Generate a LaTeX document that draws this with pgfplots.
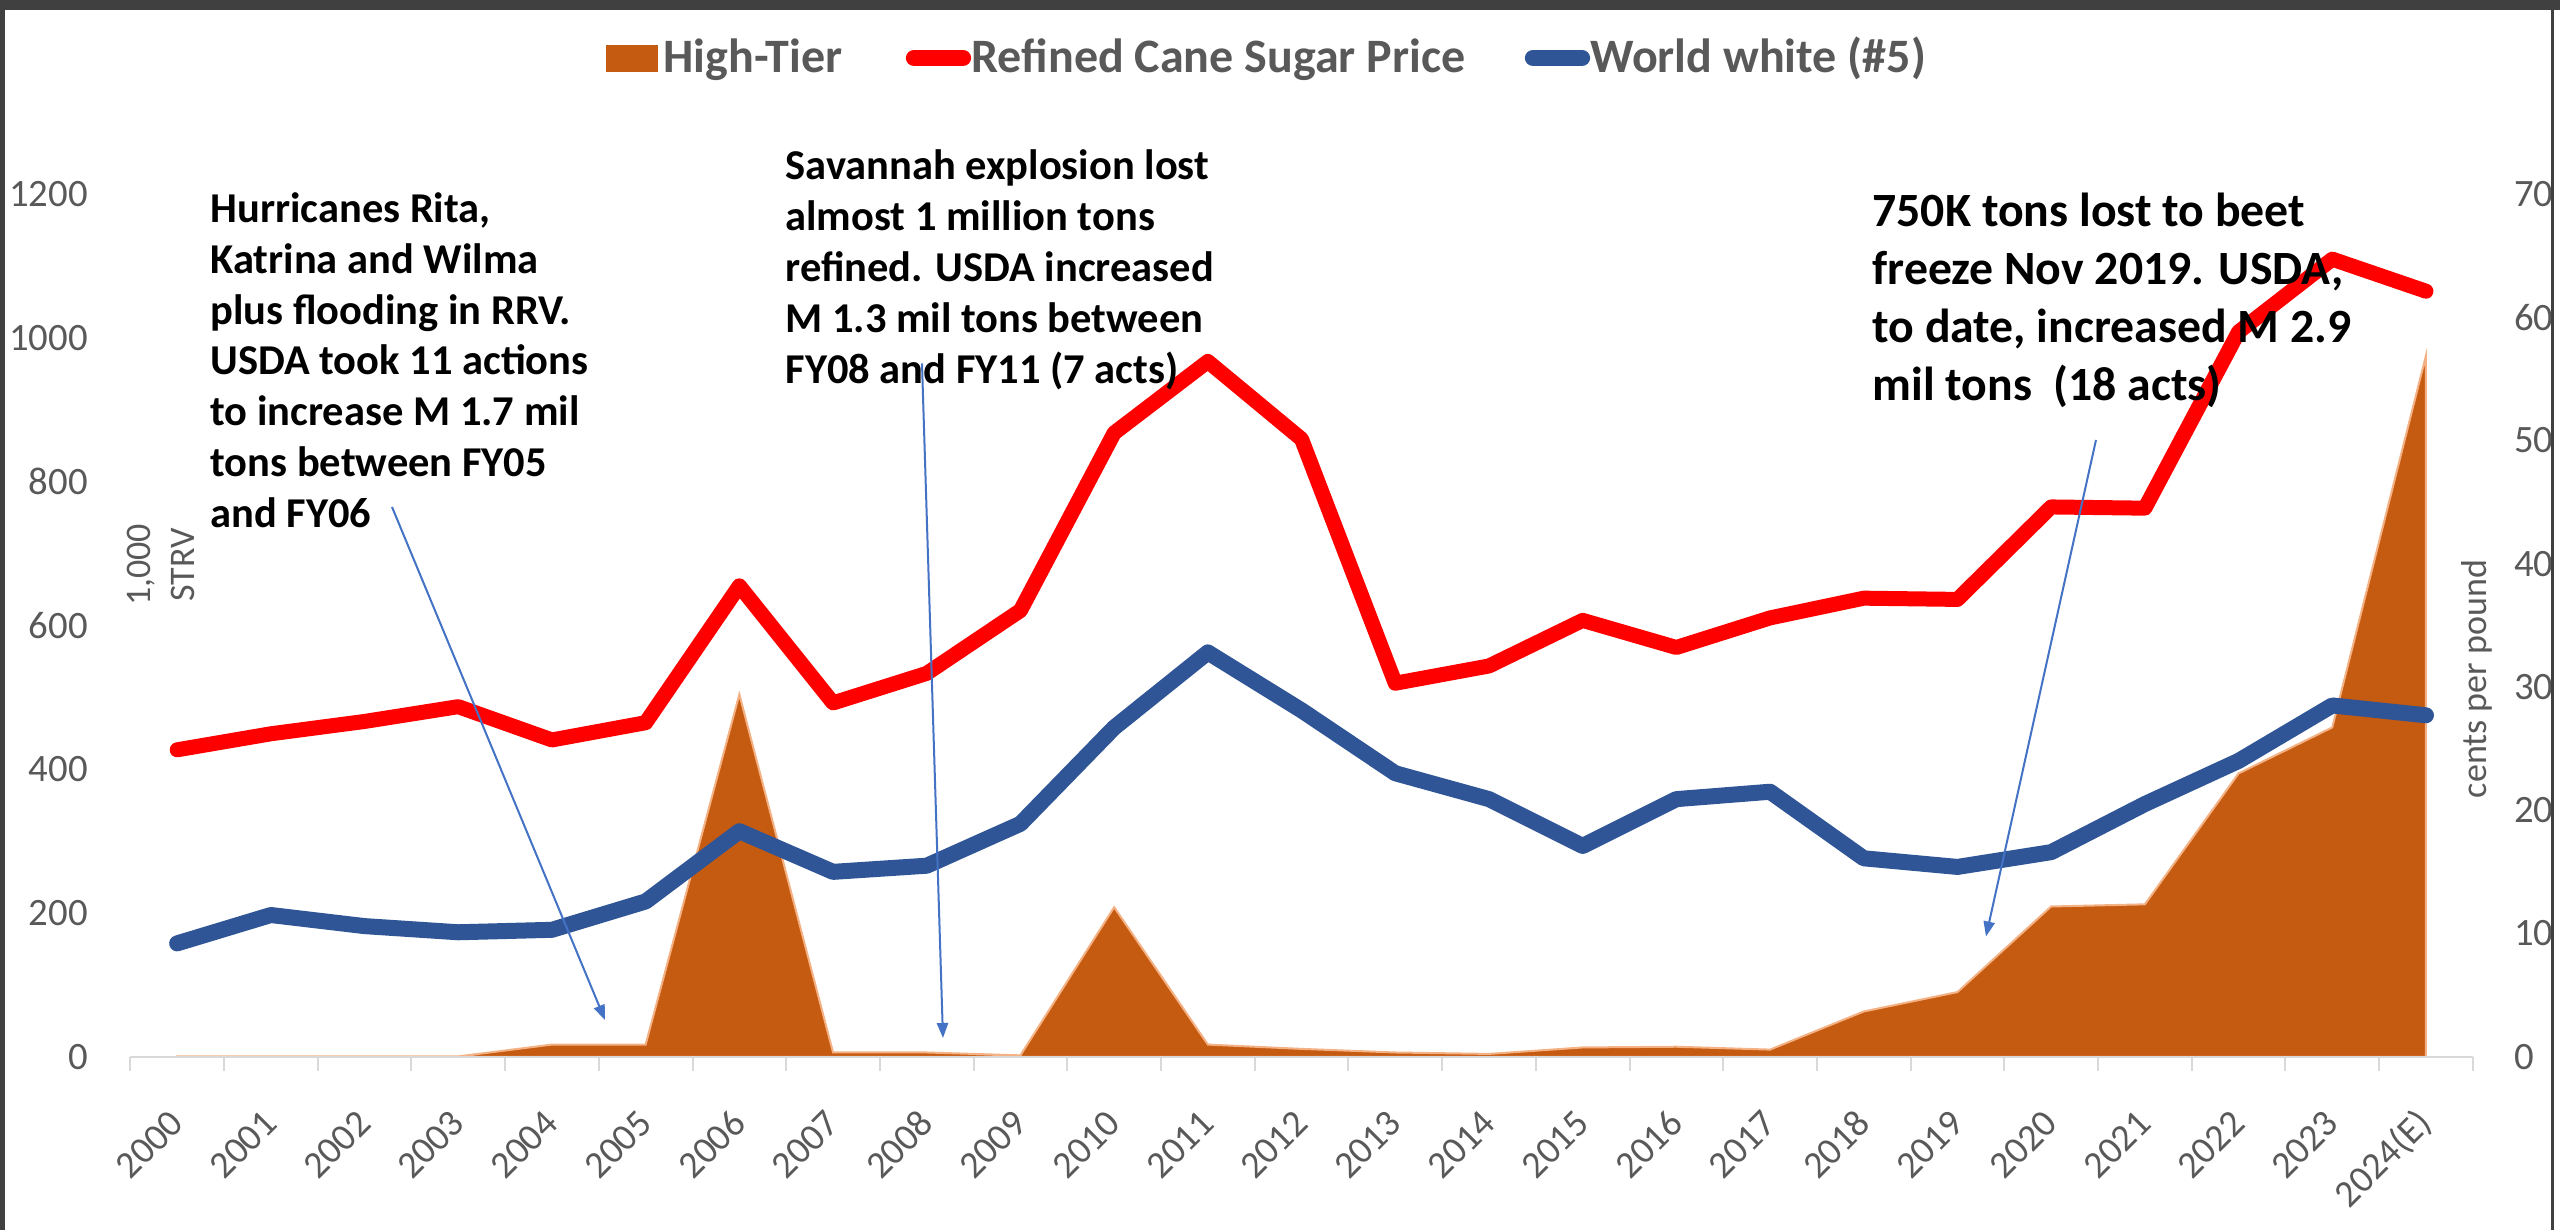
\documentclass[border=0pt]{standalone}
\usepackage{pgfplots}
\pgfplotsset{compat=1.18}
\usepackage{pgfplotstable}
\usepackage{fontspec}
\setmainfont{Carlito}
\usetikzlibrary{arrows.meta}
\definecolor{areafill}{HTML}{C55A11}
\definecolor{areaedge}{HTML}{F4B183}
\definecolor{redline}{HTML}{FF0000}
\definecolor{blueline}{HTML}{2F5597}
\definecolor{txtgray}{HTML}{595959}
\definecolor{axgray}{HTML}{D9D9D9}
\definecolor{arrowblue}{HTML}{4472C4}
\definecolor{framegray}{HTML}{404040}

\pgfplotstableread{
idx hightier refined world
0 0.5 24.9 9.2
1 0.5 26.2 11.5
2 0.5 27.2 10.6
3 0.5 28.4 10.1
4 17 25.7 10.3
5 17 27.1 12.6
6 504 38.2 18.3
7 6 28.7 15.0
8 6 31.1 15.5
9 2 36.2 18.9
10 208 50.6 26.7
11 17 56.4 32.8
12 11 50.1 28.1
13 6 30.3 23.0
14 4 31.7 20.9
15 13 35.4 17.1
16 14 33.2 20.9
17 10 35.6 21.5
18 63 37.2 16.1
19 90 37.1 15.4
20 209 44.6 16.6
21 212 44.5 20.5
22 394 58.8 24.0
23 458 64.7 28.5
24 975 62.1 27.7
}\datatable

\pgfplotsset{
  /pgf/number format/assume math mode=true,
  /pgf/number format/1000 sep={},
}

\begin{document}
\begin{tikzpicture}
\useasboundingbox (0,0) rectangle (1024pt,492pt);
\fill[white] (0,0) rectangle (1024pt,492pt);
\begin{axis}[
  at={(52.12pt,69.28pt)}, anchor=south west,
  scale only axis, width=937pt, height=345.2pt,
  xmin=-0.5, xmax=24.5, ymin=0, ymax=1200,
  axis x line=bottom, axis y line=left,
  axis line style={draw=none},
  xtick={0,...,24},
  xticklabels={2000,2001,2002,2003,2004,2005,2006,2007,2008,2009,2010,2011,2012,2013,2014,2015,2016,2017,2018,2019,2020,2021,2022,2023,2024(E)},
  minor xtick={-0.5,0.5,...,24.5},
  tick align=outside,
  major tick length=0pt,
  minor tick length=5.6pt,
  minor tick style={axgray, line width=0.8pt},
  ytick={0,200,...,1200},
  ticklabel style={font=\fontsize{15.5}{18}\selectfont, text=txtgray},
  xticklabel style={rotate=45, anchor=east, inner sep=0pt, font=\fontsize{15.2}{18}\selectfont},
  xticklabel shift=24pt,
  yticklabel style={inner sep=0pt},
  yticklabel shift=16.8pt,
  clip=false,
]
\addplot[fill=areafill, draw=areaedge, line width=0.8pt] table[x=idx,y=hightier]{\datatable} \closedcycle;
\draw[axgray, line width=0.8pt] (rel axis cs:0,0) -- (rel axis cs:1,0);
\end{axis}
\begin{axis}[
  at={(52.12pt,69.28pt)}, anchor=south west,
  scale only axis, width=937pt, height=345.2pt,
  xmin=-0.5, xmax=24.5, ymin=0, ymax=70,
  axis y line=right, axis x line=none,
  axis line style={draw=none},
  ytick={0,10,...,70},
  major tick length=0pt,
  ticklabel style={font=\fontsize{15.5}{18}\selectfont, text=txtgray},
  yticklabel style={inner sep=0pt},
  yticklabel shift=16.4pt,
  clip=false,
]
\addplot[redline, line width=6pt, line join=round, line cap=round] table[x=idx,y=refined]{\datatable};
\addplot[blueline, line width=6.4pt, line join=round, line cap=round] table[x=idx,y=world]{\datatable};
\end{axis}
\begin{scope}[shift={(0pt,492pt)}, x=0.4pt, y=-0.4pt]
  % frame
  \fill[framegray] (0,0) rectangle (2560,10);
  \fill[framegray] (0,0) rectangle (5,1230);
  \fill[framegray] (2551,0) rectangle (2554,1230);
  % arrows
  \draw[arrowblue, line width=0.8pt, -{Triangle[length=6pt,width=4.5pt]}] (392,507) -- (605,1020);
  \draw[arrowblue, line width=0.8pt, -{Triangle[length=6pt,width=4.5pt]}] (922,363.5) -- (943,1038);
  \draw[arrowblue, line width=0.8pt, -{Triangle[length=6pt,width=4.5pt]}] (2096,440) -- (1986,936.5);
  % annotations
  \begin{scope}[every node/.style={anchor=base west, inner sep=0pt, font=\fontsize{17}{20}\selectfont\bfseries}]
    \node at (210,222.6) {Hurricanes Rita,};
    \node at (210,273.4) {Katrina and Wilma};
    \node at (210,324.2) {plus flooding in RRV.};
    \node at (210,375.0) {USDA took 11 actions};
    \node at (210,425.8) {to increase M 1.7 mil};
    \node at (210,476.6) {tons between FY05};
    \node at (210,527.4) {and FY06};
    \node at (785,180.0) {Savannah explosion lost};
    \node at (785,230.8) {almost 1 million tons};
    \node at (785,281.6) {refined. USDA increased};
    \node at (785,332.4) {M 1.3 mil tons between};
    \node at (785,383.2) {FY08 and FY11 (7 acts)};
  \end{scope}
  \begin{scope}[every node/.style={anchor=base west, inner sep=0pt, font=\fontsize{19.1}{22}\selectfont\bfseries}]
    \node at (1872,226.4) {750K tons lost to beet};
    \node at (1872,284.4) {freeze Nov 2019. USDA,};
    \node at (1872,342.4) {to date, increased M 2.9};
    \node at (1872,400.4) {mil tons\ \ (18 acts)};
  \end{scope}
  % axis titles
  \node[rotate=90, align=center, inner sep=0pt, text=txtgray, font=\fontsize{14.4}{17.6}\selectfont] at (161,565) {1,000\\STRV};
  \node[rotate=90, inner sep=0pt, text=txtgray, font=\fontsize{14.4}{17.6}\selectfont] at (2477,679) {cents per pound};
  % legend
  \fill[areafill] (606,45.5) rectangle (658,72.4);
  \draw[redline, line width=6.5pt, line cap=round] (914,58) -- (963,58);
  \draw[blueline, line width=6.5pt, line cap=round] (1533,58) -- (1582,58);
  \begin{scope}[every node/.style={anchor=base west, inner sep=0pt, text=txtgray, font=\fontsize{19.2}{22}\selectfont\bfseries}]
    \node at (663,72.5) {High-Tier};
    \node at (971,72.5) {Refined Cane Sugar Price};
    \node at (1590,72.5) {World white (\#5)};
  \end{scope}
\end{scope}
\end{tikzpicture}
\end{document}
